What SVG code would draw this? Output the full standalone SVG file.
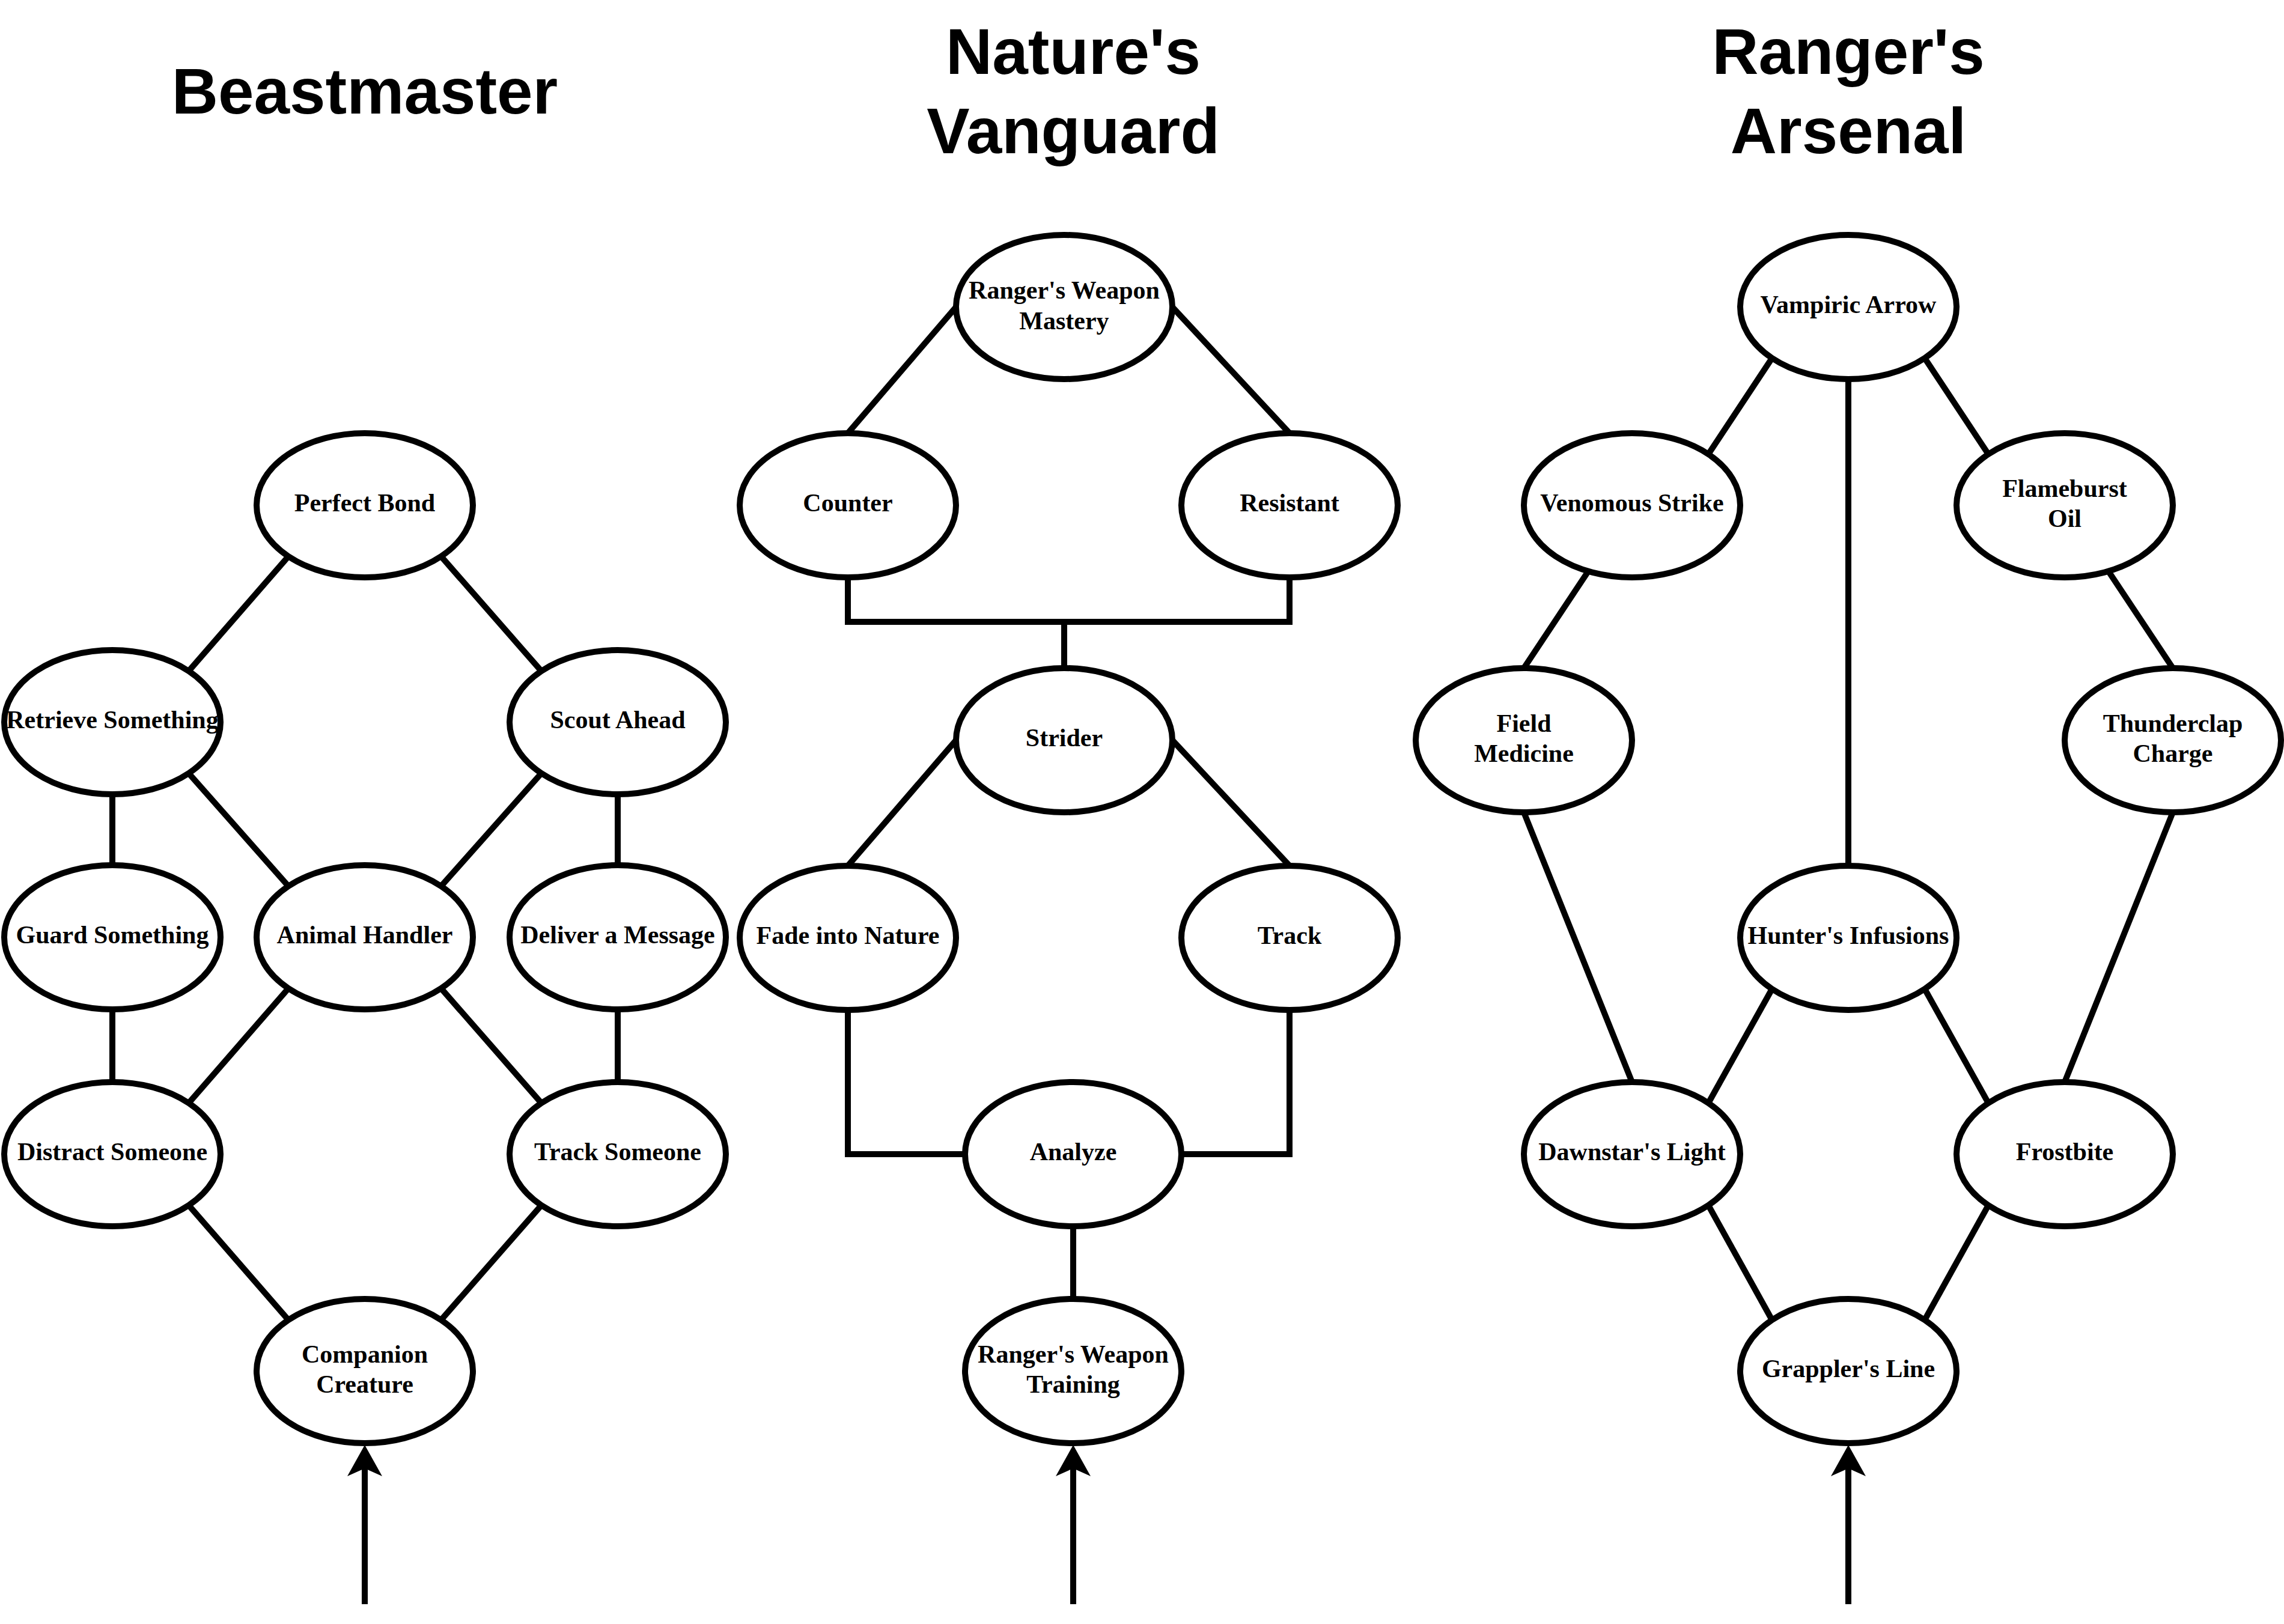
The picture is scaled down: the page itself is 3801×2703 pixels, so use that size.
<svg xmlns="http://www.w3.org/2000/svg" width="3801" height="2703" viewBox="0 0 3801 2703">
<style>
.title{font-family:"Liberation Sans",Arial,sans-serif;font-weight:bold;font-size:107px;fill:#000;text-anchor:middle}
.lbl{font-family:"Liberation Serif","Times New Roman",serif;font-weight:bold;font-size:42px;fill:#000;text-anchor:middle}
.node ellipse{fill:#fff;stroke:#000;stroke-width:10}
.edge{fill:none;stroke:#000;stroke-width:10}
</style>
<defs>
<marker id="arr" markerUnits="userSpaceOnUse" markerWidth="60" markerHeight="60" viewBox="0 0 60 60" refX="13" refY="30" orient="auto">
<path d="M52,30 L0,1 L13,30 L0,59 Z" fill="#000"/>
</marker>
</defs>
<rect width="3801" height="2703" fill="#fff"/>
<g id="titles">
<text class="title" x="607" y="189">Beastmaster</text>
<text class="title" x="1786" y="123">Nature's</text>
<text class="title" x="1786" y="255">Vanguard</text>
<text class="title" x="3076" y="123">Ranger's</text>
<text class="title" x="3076" y="255">Arsenal</text>
</g>
<g id="connectors">
<!-- Beastmaster -->
<line class="edge" x1="480" y1="926" x2="314" y2="1117"/>
<line class="edge" x1="734" y1="926" x2="901" y2="1117"/>
<line class="edge" x1="187" y1="1322" x2="187" y2="1440"/>
<line class="edge" x1="314" y1="1287" x2="480" y2="1475"/>
<line class="edge" x1="901" y1="1287" x2="734" y2="1475"/>
<line class="edge" x1="1028" y1="1322" x2="1028" y2="1440"/>
<line class="edge" x1="187" y1="1680" x2="187" y2="1801"/>
<line class="edge" x1="480" y1="1645" x2="314" y2="1836"/>
<line class="edge" x1="734" y1="1645" x2="901" y2="1836"/>
<line class="edge" x1="1028" y1="1680" x2="1028" y2="1801"/>
<line class="edge" x1="314" y1="2006" x2="480" y2="2197"/>
<line class="edge" x1="901" y1="2006" x2="734" y2="2197"/>
<line class="edge" x1="607" y1="2670" x2="607" y2="2444" marker-end="url(#arr)"/>
<!-- Nature's Vanguard -->
<line class="edge" x1="1591" y1="511" x2="1411" y2="721"/>
<line class="edge" x1="1951" y1="511" x2="2146" y2="721"/>
<path class="edge" d="M1411,961 V1035 H1771 V1112"/>
<path class="edge" d="M2146,961 V1035 H1771"/>
<line class="edge" x1="1591" y1="1232" x2="1411" y2="1441"/>
<line class="edge" x1="1951" y1="1232" x2="2146" y2="1441"/>
<path class="edge" d="M1411,1681 V1921 H1606"/>
<path class="edge" d="M2146,1681 V1921 H1966"/>
<line class="edge" x1="1786" y1="2041" x2="1786" y2="2162"/>
<line class="edge" x1="1786" y1="2670" x2="1786" y2="2444" marker-end="url(#arr)"/>
<!-- Ranger's Arsenal -->
<line class="edge" x1="2949" y1="596" x2="2843" y2="756"/>
<line class="edge" x1="3203" y1="596" x2="3309" y2="756"/>
<line class="edge" x1="3076" y1="631" x2="3076" y2="1441"/>
<line class="edge" x1="2643" y1="951" x2="2536" y2="1112"/>
<line class="edge" x1="3509" y1="951" x2="3616" y2="1112"/>
<line class="edge" x1="2536" y1="1352" x2="2716" y2="1801"/>
<line class="edge" x1="3616" y1="1352" x2="3436" y2="1801"/>
<line class="edge" x1="2949" y1="1646" x2="2843" y2="1836"/>
<line class="edge" x1="3203" y1="1646" x2="3309" y2="1836"/>
<line class="edge" x1="2843" y1="2006" x2="2949" y2="2197"/>
<line class="edge" x1="3309" y1="2006" x2="3203" y2="2197"/>
<line class="edge" x1="3076" y1="2670" x2="3076" y2="2444" marker-end="url(#arr)"/>
</g>
<!-- Beastmaster nodes -->
<g id="perfect-bond" class="node"><ellipse cx="607" cy="841" rx="180" ry="120"/><text class="lbl" x="607" y="851">Perfect Bond</text></g>
<g id="retrieve-something" class="node"><ellipse cx="187" cy="1202" rx="180" ry="120"/><text class="lbl" x="187" y="1212">Retrieve Something</text></g>
<g id="scout-ahead" class="node"><ellipse cx="1028" cy="1202" rx="180" ry="120"/><text class="lbl" x="1028" y="1212">Scout Ahead</text></g>
<g id="guard-something" class="node"><ellipse cx="187" cy="1560" rx="180" ry="120"/><text class="lbl" x="187" y="1570">Guard Something</text></g>
<g id="animal-handler" class="node"><ellipse cx="607" cy="1560" rx="180" ry="120"/><text class="lbl" x="607" y="1570">Animal Handler</text></g>
<g id="deliver-a-message" class="node"><ellipse cx="1028" cy="1560" rx="180" ry="120"/><text class="lbl" x="1028" y="1570">Deliver a Message</text></g>
<g id="distract-someone" class="node"><ellipse cx="187" cy="1921" rx="180" ry="120"/><text class="lbl" x="187" y="1931">Distract Someone</text></g>
<g id="track-someone" class="node"><ellipse cx="1028" cy="1921" rx="180" ry="120"/><text class="lbl" x="1028" y="1931">Track Someone</text></g>
<g id="companion-creature" class="node"><ellipse cx="607" cy="2282" rx="180" ry="120"/><text class="lbl" x="607" y="2268">Companion</text><text class="lbl" x="607" y="2318">Creature</text></g>
<!-- Nature's Vanguard nodes -->
<g id="rangers-weapon-mastery" class="node"><ellipse cx="1771" cy="511" rx="180" ry="120"/><text class="lbl" x="1771" y="497">Ranger's Weapon</text><text class="lbl" x="1771" y="548">Mastery</text></g>
<g id="counter" class="node"><ellipse cx="1411" cy="841" rx="180" ry="120"/><text class="lbl" x="1411" y="851">Counter</text></g>
<g id="resistant" class="node"><ellipse cx="2146" cy="841" rx="180" ry="120"/><text class="lbl" x="2146" y="851">Resistant</text></g>
<g id="strider" class="node"><ellipse cx="1771" cy="1232" rx="180" ry="120"/><text class="lbl" x="1771" y="1242">Strider</text></g>
<g id="fade-into-nature" class="node"><ellipse cx="1411" cy="1561" rx="180" ry="120"/><text class="lbl" x="1411" y="1571">Fade into Nature</text></g>
<g id="track" class="node"><ellipse cx="2146" cy="1561" rx="180" ry="120"/><text class="lbl" x="2146" y="1571">Track</text></g>
<g id="analyze" class="node"><ellipse cx="1786" cy="1921" rx="180" ry="120"/><text class="lbl" x="1786" y="1931">Analyze</text></g>
<g id="rangers-weapon-training" class="node"><ellipse cx="1786" cy="2282" rx="180" ry="120"/><text class="lbl" x="1786" y="2268">Ranger's Weapon</text><text class="lbl" x="1786" y="2318">Training</text></g>
<!-- Ranger's Arsenal nodes -->
<g id="vampiric-arrow" class="node"><ellipse cx="3076" cy="511" rx="180" ry="120"/><text class="lbl" x="3076" y="521">Vampiric Arrow</text></g>
<g id="venomous-strike" class="node"><ellipse cx="2716" cy="841" rx="180" ry="120"/><text class="lbl" x="2716" y="851">Venomous Strike</text></g>
<g id="flameburst-oil" class="node"><ellipse cx="3436" cy="841" rx="180" ry="120"/><text class="lbl" x="3436" y="827">Flameburst</text><text class="lbl" x="3436" y="877">Oil</text></g>
<g id="field-medicine" class="node"><ellipse cx="2536" cy="1232" rx="180" ry="120"/><text class="lbl" x="2536" y="1218">Field</text><text class="lbl" x="2536" y="1268">Medicine</text></g>
<g id="thunderclap-charge" class="node"><ellipse cx="3616" cy="1232" rx="180" ry="120"/><text class="lbl" x="3616" y="1218">Thunderclap</text><text class="lbl" x="3616" y="1268">Charge</text></g>
<g id="hunters-infusions" class="node"><ellipse cx="3076" cy="1561" rx="180" ry="120"/><text class="lbl" x="3076" y="1571">Hunter's Infusions</text></g>
<g id="dawnstars-light" class="node"><ellipse cx="2716" cy="1921" rx="180" ry="120"/><text class="lbl" x="2716" y="1931">Dawnstar's Light</text></g>
<g id="frostbite" class="node"><ellipse cx="3436" cy="1921" rx="180" ry="120"/><text class="lbl" x="3436" y="1931">Frostbite</text></g>
<g id="grapplers-line" class="node"><ellipse cx="3076" cy="2282" rx="180" ry="120"/><text class="lbl" x="3076" y="2292">Grappler's Line</text></g>
</svg>
